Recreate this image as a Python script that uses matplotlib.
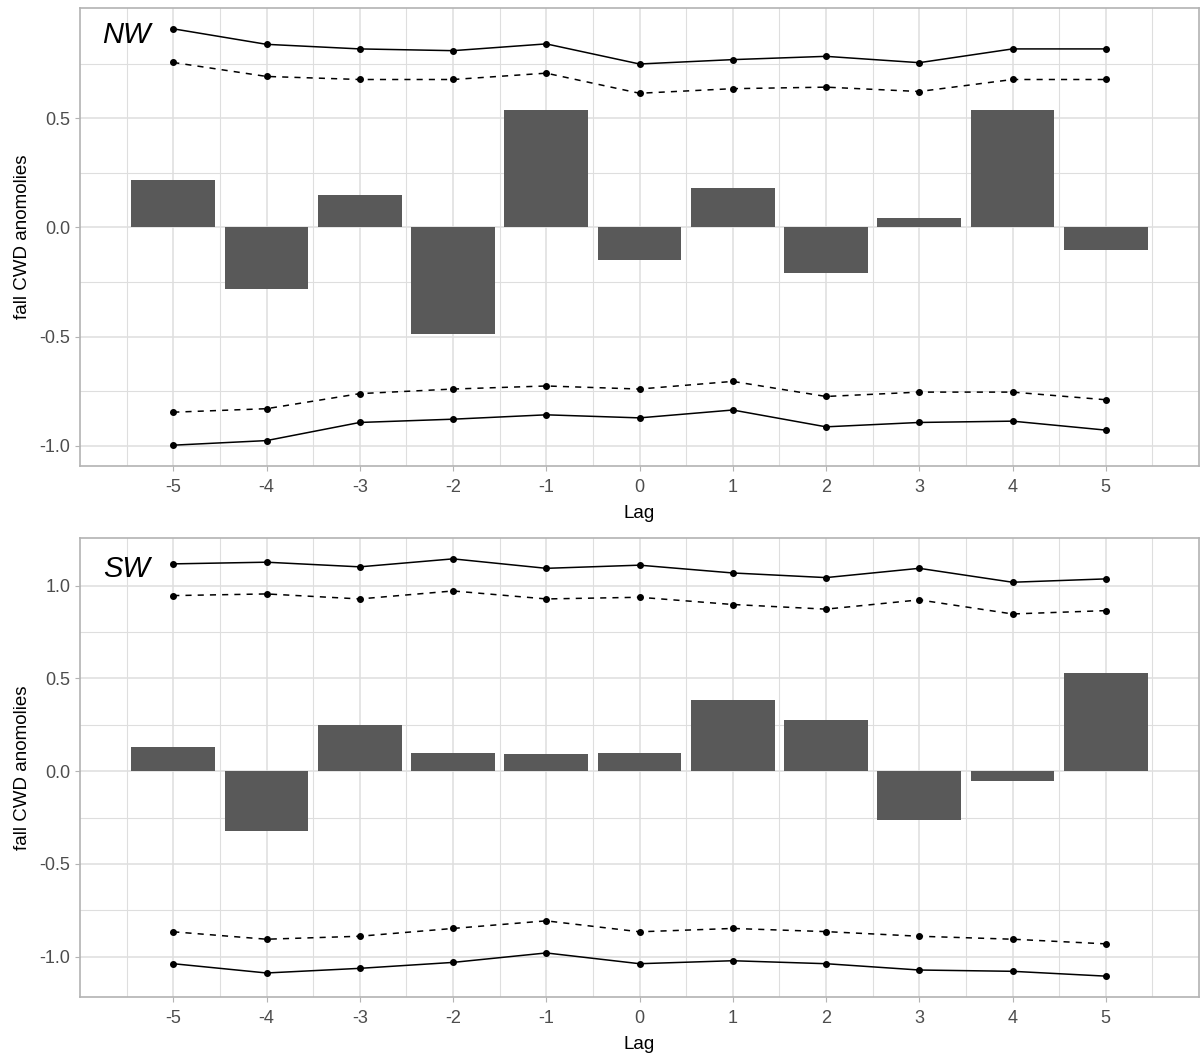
import matplotlib
matplotlib.use("Agg")
import matplotlib.pyplot as plt
import numpy as np

plt.rcParams['font.family'] = ['Liberation Sans', 'DejaVu Sans']

lags = [-5, -4, -3, -2, -1, 0, 1, 2, 3, 4, 5]

# NW panel
nw_bars = [0.217, -0.281, 0.148, -0.489, 0.538, -0.150, 0.182, -0.211, 0.042, 0.538, -0.103]
nw_upper_solid = [0.909, 0.838, 0.817, 0.809, 0.840, 0.748, 0.768, 0.783, 0.754, 0.817, 0.817]
nw_upper_dashed = [0.755, 0.691, 0.677, 0.677, 0.706, 0.614, 0.635, 0.642, 0.622, 0.677, 0.677]
nw_lower_dashed = [-0.846, -0.830, -0.761, -0.740, -0.726, -0.740, -0.705, -0.774, -0.754, -0.754, -0.789]
nw_lower_solid = [-0.997, -0.976, -0.893, -0.878, -0.858, -0.872, -0.836, -0.913, -0.893, -0.887, -0.928]
nw_yticks = [-1.0, -0.5, 0.0, 0.5]
nw_yminor = [-0.75, -0.25, 0.25, 0.75]

# SW panel
sw_bars = [0.131, -0.325, 0.246, 0.099, 0.090, 0.099, 0.382, 0.276, -0.265, -0.054, 0.530]
sw_upper_solid = [1.117, 1.126, 1.101, 1.144, 1.093, 1.110, 1.068, 1.043, 1.093, 1.018, 1.036]
sw_upper_dashed = [0.946, 0.955, 0.928, 0.971, 0.928, 0.937, 0.898, 0.873, 0.923, 0.847, 0.865]
sw_lower_dashed = [-0.866, -0.906, -0.890, -0.848, -0.807, -0.866, -0.848, -0.865, -0.890, -0.906, -0.931]
sw_lower_solid = [-1.038, -1.088, -1.063, -1.031, -0.980, -1.038, -1.022, -1.038, -1.072, -1.079, -1.105]
sw_yticks = [-1.0, -0.5, 0.0, 0.5, 1.0]
sw_yminor = [-0.75, -0.25, 0.25, 0.75]

panels = [
    ("NW", nw_bars, nw_upper_solid, nw_upper_dashed, nw_lower_dashed, nw_lower_solid, nw_yticks, nw_yminor),
    ("SW", sw_bars, sw_upper_solid, sw_upper_dashed, sw_lower_dashed, sw_lower_solid, sw_yticks, sw_yminor),
]

W, H = 1200, 1057
fig = plt.figure(figsize=(W / 100, H / 100), dpi=100)

# panel pixel boxes: left, top, right, bottom
boxes = [(80, 8, 1199, 466), (80, 538, 1199, 997)]

grid_c = '#DEDEDE'
border_c = '#B3B3B3'

for (label, bars, us, ud, ld, ls, ymaj, ymin), (l, t, r, b) in zip(panels, boxes):
    ax = fig.add_axes([l / W, 1 - b / H, (r - l) / W, (b - t) / H])
    allv = bars + us + ud + ld + ls + [0]
    lo, hi = min(allv), max(allv)
    span = hi - lo
    ax.set_ylim(lo - 0.05 * span, hi + 0.05 * span)
    ax.set_xlim(-6.0, 6.0)

    ax.set_xticks(lags)
    ax.set_xticks(np.arange(-5.5, 6.0, 1.0), minor=True)
    ax.set_yticks(ymaj)
    ax.set_yticks(ymin, minor=True)
    ax.grid(True, which='major', color=grid_c, linewidth=1.1)
    ax.grid(True, which='minor', color=grid_c, linewidth=0.8)
    ax.set_axisbelow(True)
    ax.set_xticklabels([str(v) for v in lags])
    ax.set_yticklabels([f"{v:.1f}" for v in ymaj])

    ax.bar(lags, bars, width=0.9, color='#595959', zorder=2)
    ax.plot(lags, us, color='black', linestyle='-', linewidth=1.1, marker='o', markersize=4, zorder=3)
    ax.plot(lags, ud, color='black', linestyle=(0, (4, 4)), linewidth=1.1, marker='o', markersize=4, zorder=3)
    ax.plot(lags, ld, color='black', linestyle=(0, (4, 4)), linewidth=1.1, marker='o', markersize=4, zorder=3)
    ax.plot(lags, ls, color='black', linestyle='-', linewidth=1.1, marker='o', markersize=4, zorder=3)

    ax.text(-5.5, us[0] - 0.03, label, style='italic', fontsize=21, ha='center', va='center', color='black')

    for s in ax.spines.values():
        s.set_color(border_c)
        s.set_linewidth(1.2)
    ax.tick_params(axis='both', which='major', colors=border_c, labelcolor='#4D4D4D', labelsize=13, length=3.5)
    ax.tick_params(axis='x', which='major', pad=6)
    ax.tick_params(axis='both', which='minor', length=0)
    ax.set_xlabel('Lag', fontsize=13.5, color='black', labelpad=6)
    ax.set_ylabel('fall CWD anomolies', fontsize=13.5, color='black', labelpad=6)

fig.savefig('out.png', dpi=100, facecolor='white')
